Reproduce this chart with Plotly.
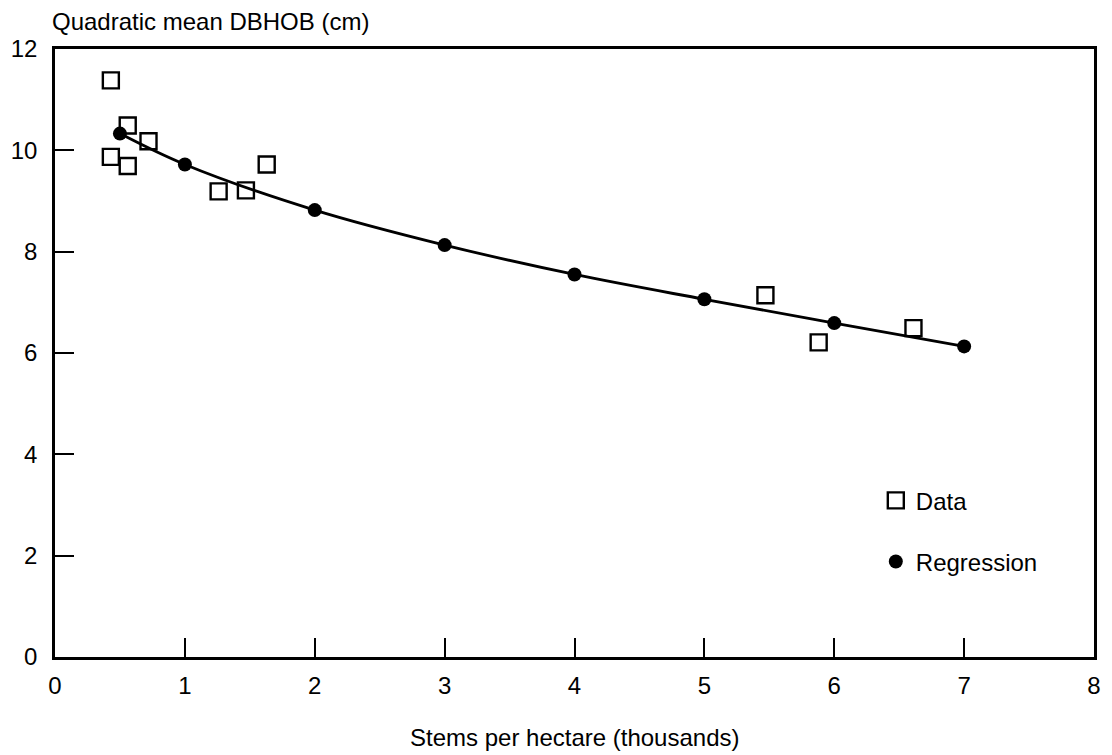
import plotly.graph_objects as go

# Data (thousands of stems per hectare, quadratic mean DBHOB in cm)
data_x = [0.43, 0.43, 0.56, 0.56, 0.72, 1.26, 1.47, 1.63, 5.47, 5.88, 6.61]
data_y = [11.38, 9.87, 10.49, 9.69, 10.18, 9.19, 9.21, 9.72, 7.14, 6.21, 6.49]

reg_x = [0.5, 1, 2, 3, 4, 5, 6, 7]
reg_y = [10.33, 9.72, 8.82, 8.13, 7.55, 7.06, 6.59, 6.13]

x_ticks = [0, 1, 2, 3, 4, 5, 6, 7, 8]
y_ticks = [0, 2, 4, 6, 8, 10, 12]

FONT = "Liberation Sans, Arial, Helvetica, sans-serif"
FS = 24

fig = go.Figure()

fig.add_trace(go.Scatter(
    x=reg_x, y=reg_y, mode="lines", line=dict(color="black", width=2.8, shape="spline"),
    showlegend=False, hoverinfo="skip"))

fig.add_trace(go.Scatter(
    x=data_x, y=data_y, mode="markers", name="Data", legendgroup="a",
    marker=dict(symbol="square-open", size=16, color="black", line=dict(width=2.4, color="black"))))

fig.add_trace(go.Scatter(
    x=reg_x, y=reg_y, mode="markers", name="Regression", legendgroup="b",
    marker=dict(symbol="circle", size=14, color="black")))

axis_common = dict(
    showline=True, linecolor="black", linewidth=2.5, mirror=True,
    ticks="inside", ticklen=19, tickwidth=2, tickcolor="black",
    showgrid=False, zeroline=False,
    tickfont=dict(family=FONT, size=FS, color="black"),
)

fig.update_xaxes(range=[0, 8], tickvals=x_ticks, ticklabelstandoff=5, **axis_common)
fig.update_yaxes(range=[0, 12], tickvals=y_ticks, ticklabelstandoff=10, **axis_common)

fig.update_layout(
    width=1112, height=755,
    margin=dict(l=51, r=11, t=49, b=98),
    plot_bgcolor="white", paper_bgcolor="white",
    font=dict(family=FONT, size=FS, color="black"),
    legend=dict(x=0.79, y=0.294, xanchor="left", yanchor="top",
                traceorder="grouped", tracegroupgap=27,
                bgcolor="rgba(0,0,0,0)", itemwidth=30,
                font=dict(family=FONT, size=FS, color="black")),
    annotations=[
        dict(text="Quadratic mean DBHOB (cm)", xref="paper", yref="paper",
             x=0.0, y=1, xanchor="left", yanchor="bottom", yshift=12, xshift=-5,
             showarrow=False, font=dict(family=FONT, size=FS, color="black")),
        dict(text="Stems per hectare (thousands)", xref="paper", yref="paper",
             x=0.5, y=0, xanchor="center", yanchor="top", yshift=-65,
             showarrow=False, font=dict(family=FONT, size=FS, color="black")),
    ],
)

fig.write_html("out.html")
